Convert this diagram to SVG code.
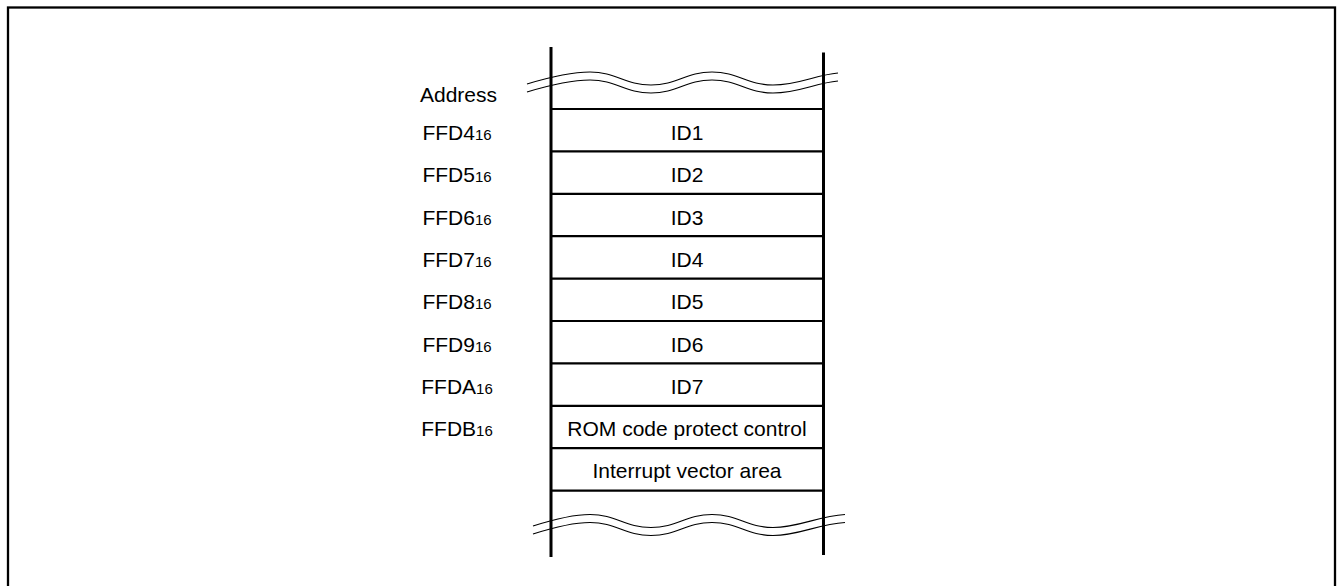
<svg xmlns="http://www.w3.org/2000/svg" width="1339" height="586" viewBox="0 0 1339 586">
<style>
.t{font-family:"Liberation Sans",Arial,sans-serif;font-size:21px;fill:#000;text-anchor:middle}
.s{font-size:15px}
.wave{fill:none;stroke:#000;stroke-width:1.2}
.row{stroke:#000;stroke-width:2.2}
.col{stroke:#000;stroke-width:3}
</style>
<rect x="8" y="7.5" width="1327" height="620" fill="#fff" stroke="#000" stroke-width="2.3"/>
<g id="memory-map">
<line class="col" x1="551" y1="47" x2="551" y2="557"/>
<line class="col" x1="823.5" y1="52.5" x2="823.5" y2="555"/>
<line class="row" x1="551" y1="109" x2="823.5" y2="109"/>
<line class="row" x1="551" y1="151.4" x2="823.5" y2="151.4"/>
<line class="row" x1="551" y1="193.8" x2="823.5" y2="193.8"/>
<line class="row" x1="551" y1="236.2" x2="823.5" y2="236.2"/>
<line class="row" x1="551" y1="278.6" x2="823.5" y2="278.6"/>
<line class="row" x1="551" y1="321" x2="823.5" y2="321"/>
<line class="row" x1="551" y1="363.4" x2="823.5" y2="363.4"/>
<line class="row" x1="551" y1="405.8" x2="823.5" y2="405.8"/>
<line class="row" x1="551" y1="448.2" x2="823.5" y2="448.2"/>
<line class="row" x1="551" y1="490.6" x2="823.5" y2="490.6"/>
</g>
<g id="break-top">
<path class="wave" d="M527,84 C550,77 570,72 590,72 C616,72 625,85 651,85 C677,85 686,72 712,72 C738,72 747,85 773,85 C799,85 815,75 838,73"/>
<path class="wave" d="M527,92 C550,85 570,80 590,80 C616,80 625,93 651,93 C677,93 686,80 712,80 C738,80 747,93 773,93 C799,93 815,83 838,81"/>
</g>
<g id="break-bottom">
<path class="wave" d="M533,526 C555,519 572,514.5 590,514.5 C616,514.5 625,527.5 651,527.5 C677,527.5 686,514.5 712,514.5 C738,514.5 747,527.5 773,527.5 C799,527.5 818,516 845,514.5"/>
<path class="wave" d="M533,534 C555,527 572,522.5 590,522.5 C616,522.5 625,535.5 651,535.5 C677,535.5 686,522.5 712,522.5 C738,522.5 747,535.5 773,535.5 C799,535.5 818,524 845,522.5"/>
</g>
<g id="address-header"><text class="t" x="458.5" y="101.7">Address</text></g>
<g id="row-id1"><text class="t" x="457" y="140">FFD4<tspan class="s">16</tspan></text><text class="t" x="687" y="140">ID1</text></g>
<g id="row-id2"><text class="t" x="457" y="182.3">FFD5<tspan class="s">16</tspan></text><text class="t" x="687" y="182.3">ID2</text></g>
<g id="row-id3"><text class="t" x="457" y="224.6">FFD6<tspan class="s">16</tspan></text><text class="t" x="687" y="224.6">ID3</text></g>
<g id="row-id4"><text class="t" x="457" y="266.9">FFD7<tspan class="s">16</tspan></text><text class="t" x="687" y="266.9">ID4</text></g>
<g id="row-id5"><text class="t" x="457" y="309.2">FFD8<tspan class="s">16</tspan></text><text class="t" x="687" y="309.2">ID5</text></g>
<g id="row-id6"><text class="t" x="457" y="351.5">FFD9<tspan class="s">16</tspan></text><text class="t" x="687" y="351.5">ID6</text></g>
<g id="row-id7"><text class="t" x="457" y="393.8">FFDA<tspan class="s">16</tspan></text><text class="t" x="687" y="393.8">ID7</text></g>
<g id="row-rom"><text class="t" x="457" y="436.1">FFDB<tspan class="s">16</tspan></text><text class="t" x="687" y="436.1">ROM code protect control</text></g>
<g id="row-vector"><text class="t" x="687" y="478.4">Interrupt vector area</text></g>
</svg>
